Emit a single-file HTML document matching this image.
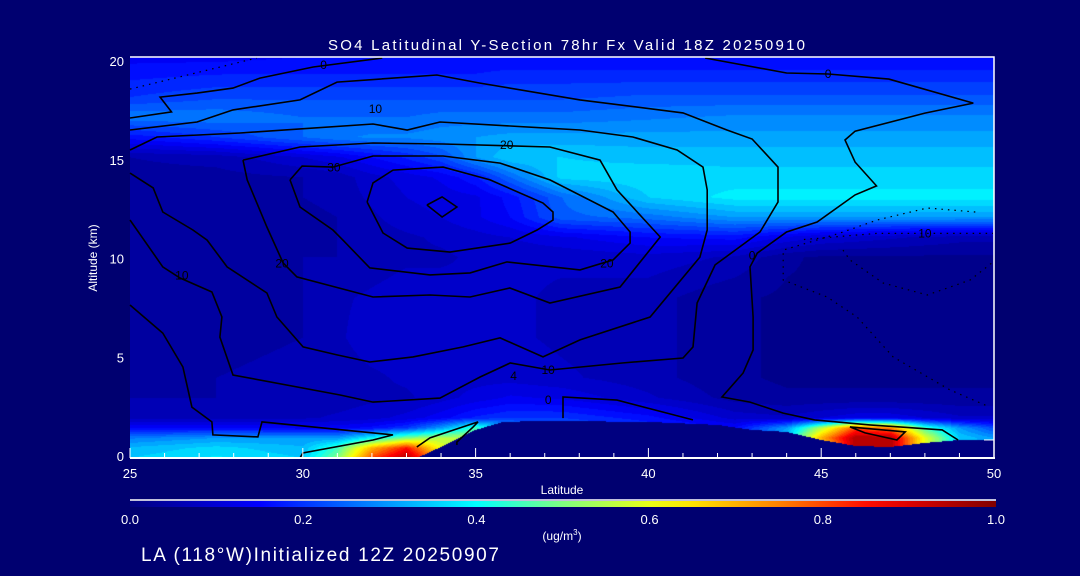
<!DOCTYPE html>
<html><head><meta charset="utf-8">
<style>
html,body{margin:0;padding:0;background:#000070;}
#wrap{position:relative;width:1080px;height:576px;overflow:hidden;background:#000070;font-family:"Liberation Sans",sans-serif;color:#fff;}
canvas{position:absolute;left:130px;top:57px;}
svg{position:absolute;left:0;top:0;}
</style></head>
<body>
<div id="wrap">
<canvas id="field" width="864" height="401"></canvas>
<svg id="svg" width="1080" height="576"></svg>
</div>
<script>
// ---- data ----
const latNodes = [25,27.5,30,31,32,33,34,35,36,37.5,40,42.5,44,45,46,47,48,49,50];
const altNodes = [0,0.5,1,1.5,2,3,4,6,8,10,11,12,13,14,15,16,17,18,19,20];
const conc = [
 [0.35,0.38,0.35,0.5,0.8,0.95,0.7,0.5,0.3,0.2,0.15,0.1,0.3,0.5,0.9,0.9,0.5,0.3,0.25], //0
 [0.33,0.36,0.33,0.45,0.7,0.85,0.6,0.5,0.3,0.2,0.15,0.12,0.3,0.6,0.95,0.95,0.6,0.35,0.3], //0.5
 [0.27,0.3,0.3,0.3,0.4,0.5,0.55,0.55,0.35,0.25,0.2,0.15,0.35,0.7,0.95,0.95,0.6,0.35,0.3], //1
 [0.15,0.15,0.14,0.14,0.16,0.2,0.3,0.45,0.3,0.25,0.2,0.15,0.3,0.55,0.8,0.75,0.45,0.3,0.22], //1.5
 [0.07,0.07,0.07,0.08,0.09,0.11,0.14,0.18,0.2,0.2,0.16,0.09,0.08,0.1,0.12,0.12,0.1,0.08,0.08], //2
 [0.05,0.05,0.06,0.06,0.07,0.07,0.09,0.11,0.13,0.12,0.08,0.04,0.03,0.03,0.03,0.03,0.03,0.03,0.03], //3
 [0.04,0.05,0.06,0.06,0.07,0.08,0.09,0.09,0.09,0.08,0.06,0.03,0.02,0.02,0.02,0.02,0.02,0.02,0.02], //4
 [0.03,0.04,0.05,0.07,0.09,0.09,0.09,0.08,0.08,0.07,0.06,0.03,0.02,0.02,0.02,0.02,0.02,0.02,0.02], //6
 [0.03,0.04,0.05,0.07,0.08,0.09,0.09,0.08,0.08,0.07,0.06,0.03,0.02,0.02,0.02,0.02,0.02,0.02,0.02], //8
 [0.04,0.04,0.05,0.05,0.06,0.07,0.07,0.08,0.08,0.08,0.09,0.07,0.03,0.02,0.02,0.02,0.02,0.02,0.02], //10
 [0.04,0.04,0.04,0.05,0.06,0.07,0.08,0.09,0.1,0.12,0.15,0.16,0.12,0.1,0.09,0.08,0.07,0.06,0.06], //11
 [0.04,0.04,0.04,0.05,0.07,0.09,0.1,0.12,0.15,0.24,0.26,0.3,0.3,0.3,0.3,0.3,0.3,0.3,0.3], //12
 [0.04,0.04,0.05,0.06,0.08,0.1,0.11,0.12,0.16,0.25,0.35,0.385,0.385,0.385,0.385,0.385,0.385,0.385,0.385], //13
 [0.04,0.04,0.05,0.06,0.09,0.11,0.13,0.17,0.25,0.36,0.37,0.36,0.36,0.36,0.36,0.36,0.36,0.36,0.36], //14
 [0.05,0.06,0.1,0.12,0.15,0.18,0.22,0.3,0.35,0.35,0.34,0.34,0.34,0.34,0.34,0.34,0.34,0.34,0.34], //15
 [0.16,0.2,0.25,0.27,0.28,0.28,0.29,0.3,0.31,0.31,0.31,0.31,0.31,0.31,0.31,0.31,0.31,0.31,0.31], //16
 [0.27,0.27,0.25,0.25,0.25,0.25,0.26,0.26,0.26,0.26,0.27,0.28,0.28,0.28,0.28,0.28,0.28,0.28,0.28], //17
 [0.2,0.22,0.22,0.22,0.22,0.22,0.22,0.22,0.22,0.22,0.23,0.23,0.23,0.23,0.23,0.23,0.23,0.23,0.23], //18
 [0.17,0.18,0.18,0.18,0.18,0.18,0.18,0.18,0.19,0.19,0.19,0.19,0.19,0.19,0.19,0.19,0.19,0.19,0.19], //19
 [0.14,0.14,0.15,0.15,0.15,0.15,0.15,0.15,0.15,0.15,0.15,0.15,0.15,0.15,0.15,0.15,0.15,0.15,0.15]  //20
];
const terrainLat = [25,33.3,34,35,35.8,37,40,42,43,44,45,46,47,48,49,50];
const terrainAlt = [0,0,0.55,1.4,1.8,1.85,1.8,1.65,1.4,1.3,0.9,0.6,0.55,0.75,0.9,0.9];

const contours = [
 {dash:false, pts:[[25,16.96],[26.2,17.26],[25.87,18.0],[26.94,18.2],[27.98,18.45],[28.76,18.95],[30.3,19.5],[32.3,19.95]]},
 {dash:false, pts:[[41.64,19.95],[44.0,19.2],[45.2,19.15],[46.96,18.9],[49.4,17.7],[48.0,17.2],[45.98,16.3],[45.69,15.86],[45.98,14.76],[46.6,13.57],[45.98,13.12],[44.88,11.77],[44.0,11.27],[43.15,10.22],[42.94,9.53],[43.03,7.03],[43.03,5.39],[42.74,4.24],[42.13,3.04],[42.94,2.79],[43.9,2.24],[44.81,1.9],[46.4,1.65],[48.5,1.4],[48.96,0.9]]},
 {dash:false, pts:[[33.59,12.62],[34.03,13.02],[34.46,12.52],[34.03,12.02],[33.59,12.62]]},
 {dash:false, pts:[[31.86,12.77],[32.03,13.72],[32.61,14.36],[34.06,14.51],[35.42,13.87],[36.95,12.72],[37.24,12.27],[37.24,11.87],[36.78,11.37],[36.0,10.72],[34.26,10.27],[33.02,10.47],[32.32,11.22],[31.86,12.77]]},
 {dash:false, pts:[[29.63,13.87],[29.98,14.56],[30.87,14.51],[32.03,15.06],[34.06,15.06],[35.71,14.71],[37.15,13.87],[38.98,12.27],[39.47,11.27],[39.47,10.72],[38.98,9.88],[38.02,9.38],[35.91,9.78],[34.84,9.23],[33.68,9.13],[31.94,9.48],[31.16,10.87],[30.87,11.37],[29.92,12.52],[29.63,13.87]]},
 {dash:false, pts:[[28.27,14.86],[29.92,15.51],[32.03,15.71],[34.06,15.66],[37.15,15.51],[38.6,14.86],[39.09,13.37],[40.34,11.02],[39.18,8.53],[37.15,7.73],[35.99,8.48],[34.84,8.03],[33.68,8.13],[32.03,8.03],[29.83,9.03],[29.43,9.73],[28.96,11.52],[28.39,13.87],[28.27,14.86]]},
 {dash:false, pts:[[25,15.36],[25.78,16.01],[28.18,16.21],[32.03,16.66],[33.02,16.36],[33.97,16.76],[38.02,16.36],[39.55,16.01],[40.83,15.36],[41.58,14.51],[41.7,13.37],[41.7,11.37],[41.49,10.02],[40.05,7.03],[38.02,5.89],[36.95,5.04],[35.71,5.99],[34.64,5.54],[33.19,5.04],[31.94,4.79],[30.99,5.14],[30.01,5.54],[29.25,7.03],[28.96,8.23],[27.81,9.53],[27.23,10.87],[26.82,11.37],[25.95,12.27],[25.67,13.47],[25,14.21]]},
 {dash:false, pts:[[25,16.36],[26.94,16.76],[27.98,17.36],[29.92,17.86],[30.99,18.75],[33.88,19.1],[35.13,18.7],[38.02,17.86],[41.0,17.21],[42.27,16.36],[43.0,15.91],[43.75,14.51],[43.75,12.77],[43.23,11.27],[41.93,9.63],[41.41,7.73],[41.29,5.54],[41.0,4.99],[39.24,4.74],[37.15,4.39],[36.0,4.74],[35.13,4.04],[33.97,2.99],[32.03,2.79],[31.08,3.14],[27.98,4.14],[27.6,6.03],[27.66,7.03],[27.37,8.28],[26.45,8.98],[25.95,9.53],[25,11.87]]},
 {dash:false, pts:[[25,7.63],[25.95,6.23],[26.53,4.54],[26.79,2.54],[27.37,1.8],[27.4,1.15],[28.7,1.05],[28.82,1.8],[32.61,1.15],[32.03,0.9],[30.0,0.25],[29.92,0]]},
 {dash:false, pts:[[33.3,0.55],[33.68,1.0],[35.07,1.8],[34.93,1.55],[34.46,0.8],[34.46,0.65]]},
 {dash:false, pts:[[45.83,1.55],[47.43,1.3],[47.19,0.9],[46.27,1.25],[45.83,1.55]]},
 {dash:false, pts:[[41.29,1.9],[39.09,2.89],[37.53,3.04],[37.53,1.99]]},
 {dash:true, pts:[[25,18.4],[28.67,19.95]]},
 {dash:true, pts:[[49.46,12.27],[48.07,12.47],[46.62,11.87],[45.55,11.22],[43.9,10.37],[43.9,8.88],[45.17,8.03],[46.04,7.03],[47.08,5.04],[48.73,3.39],[49.88,2.54]]},
 {dash:true, pts:[[45.63,10.37],[45.83,9.88],[46.79,8.73],[48.07,8.13],[49.31,8.88],[49.94,9.73]]},
 {dash:true, pts:[[44.5,10.9],[46.6,11.2],[48.0,11.2],[49.97,11.2]]}
];
const contourLabels = [["0",30.6,19.6],["0",45.2,19.15],["10",32.1,17.4],["20",35.9,15.6],["30",30.9,14.5],["10",26.5,9.1],["20",29.4,9.7],["20",38.8,9.7],["10",37.1,4.4],["4",36.1,4.1],["0",43.0,10.1],["10",48.0,11.2],["0",37.1,2.9]];
const xTicks = [25,30,35,40,45,50];
const yTicks = [0,5,10,15,20];
const cbTicks = [0,0.2,0.4,0.6,0.8,1.0];

// ---- axes ----
const X0=130, X1=994, Y0=458, Y1=57;
const xs = lat => X0 + (lat-25)/25*(X1-X0);
const ys = alt => Y0 - alt/20*(Y0-Y1);
const yl = alt => 456 - alt*19.75;

const cmStops=[[0,0,0,128],[0.15,0,0,255],[0.4,0,255,255],[0.5,128,255,128],[0.62,255,255,0],[0.75,255,128,0],[0.86,255,0,0],[1,128,0,0]];
function cmap(v){v=Math.max(0,Math.min(1,v));
 for(let i=1;i<cmStops.length;i++){const a=cmStops[i-1],b=cmStops[i];
  if(v<=b[0]){const t=(v-a[0])/(b[0]-a[0]);return [a[1]+t*(b[1]-a[1]),a[2]+t*(b[2]-a[2]),a[3]+t*(b[3]-a[3])];}}
 return [128,0,0];}
function idx(arr,v){for(let i=0;i<arr.length-1;i++){if(v<=arr[i+1])return [i,(v-arr[i])/(arr[i+1]-arr[i])];}return [arr.length-2,1];}
function terrain(lat){const [i,t]=idx(terrainLat,lat);return terrainAlt[i]+t*(terrainAlt[i+1]-terrainAlt[i]);}

// ---- field ----
const cv=document.getElementById('field');const ctx=cv.getContext('2d');
const W=cv.width,H=cv.height;const img=ctx.createImageData(W,H);
for(let px=0;px<W;px++){
 const lat=25+(px+0.5)/W*25;const [i,tx]=idx(latNodes,lat);const tg=terrain(lat);
 for(let py=0;py<H;py++){
  const alt=20-(py+0.5)/H*20;let v;
  if(alt<tg){v=0;}else{
   const [j,ty]=idx(altNodes,alt);
   const a=conc[j][i],b=conc[j][i+1],c=conc[j+1][i],d=conc[j+1][i+1];
   v=(a*(1-tx)+b*tx)*(1-ty)+(c*(1-tx)+d*tx)*ty;
   v=Math.floor(v/0.025)*0.025+0.0125;}
  const col=cmap(v);const k=(py*W+px)*4;
  img.data[k]=col[0];img.data[k+1]=col[1];img.data[k+2]=col[2];img.data[k+3]=255;}}
ctx.putImageData(img,0,0);

// ---- svg ----
const svg=document.getElementById('svg');const NS='http://www.w3.org/2000/svg';
function mk(tag,attrs,parent){const e=document.createElementNS(NS,tag);for(const k in attrs)e.setAttribute(k,attrs[k]);(parent||svg).appendChild(e);return e;}

contours.forEach(c=>{
 const pl=mk('polyline',{points:c.pts.map(p=>xs(p[0]).toFixed(1)+','+ys(p[1]).toFixed(1)).join(' '),fill:'none',stroke:'#000',
  'stroke-width':c.dash?1.2:1.6,'stroke-dasharray':c.dash?'1.5 5':'none'});
 
 
});
contourLabels.forEach(l=>{
 const t=mk('text',{x:xs(l[1]),y:ys(l[2])+4,'font-size':12,fill:'#000','text-anchor':'middle'});t.textContent=l[0];
 
 
});

// frame
let fr=mk('polyline',{points:`${X0},${Y1} ${X1},${Y1} ${X1},${Y0}`,fill:'none',stroke:'#fff','stroke-width':1.5});


let xa=mk('line',{x1:X0,x2:X1+1,y1:Y0,y2:Y0,stroke:'#fff','stroke-width':2});


for(let lat=25;lat<=50;lat++){
 const major=lat%5===0;
 const tk=mk('line',{x1:xs(lat),x2:xs(lat),y1:Y0,y2:Y0-(major?10:5),stroke:'#fff','stroke-width':1});
 
 
}
let rt=mk('line',{x1:X1-10,x2:X1,y1:ys(0.9),y2:ys(0.9),stroke:'#fff','stroke-width':1});


xTicks.forEach(v=>{const t=mk('text',{x:xs(v),y:478,'font-size':13,fill:'#fff','text-anchor':'middle'});t.textContent=v;
 
 });
yTicks.forEach(v=>{const t=mk('text',{x:124,y:yl(v)+5,'font-size':13,fill:'#fff','text-anchor':'end'});t.textContent=v;
 
 });
let xt=mk('text',{x:562,y:494,'font-size':12,fill:'#fff','text-anchor':'middle'});xt.textContent='Latitude';


let yt=mk('text',{x:0,y:0,'font-size':12,fill:'#fff','text-anchor':'middle',transform:'translate(97,258) rotate(-90)'});yt.textContent='Altitude (km)';


let tt=mk('text',{x:328,y:50,'font-size':15,fill:'#fff',textLength:477,lengthAdjust:'spacing'});tt.textContent='SO4 Latitudinal Y-Section 78hr  Fx Valid 18Z 20250910';



// colorbar
const defs=mk('defs',{});const lg=mk('linearGradient',{id:'cb',x1:0,x2:1,y1:0,y2:0},defs);
for(let s=0;s<=20;s++){const c=cmap(s/20);mk('stop',{offset:s/20,'stop-color':`rgb(${c.map(Math.round).join(',')})`},lg);}
let cbl=mk('line',{x1:130,x2:996,y1:500,y2:500,stroke:'#fff','stroke-width':1.5});


let cb=mk('rect',{x:130,y:501,width:866,height:6,fill:'url(#cb)'});


cbTicks.forEach(v=>{const t=mk('text',{x:130+v*866,y:524,'font-size':13,fill:'#fff','text-anchor':'middle'});t.textContent=v.toFixed(1);
 
 });
let un=mk('text',{x:562,y:540,'font-size':12,fill:'#fff','text-anchor':'middle'});un.textContent='(ug/m';
const sup=mk('tspan',{dy:-5,'font-size':8},un);sup.textContent='3';
const cl=mk('tspan',{dy:5},un);cl.textContent=')';


let ft=mk('text',{x:141,y:561,'font-size':19,fill:'#fff',textLength:358,lengthAdjust:'spacing'});ft.textContent='LA (118°W)Initialized 12Z 20250907';


</script>
</body></html>
